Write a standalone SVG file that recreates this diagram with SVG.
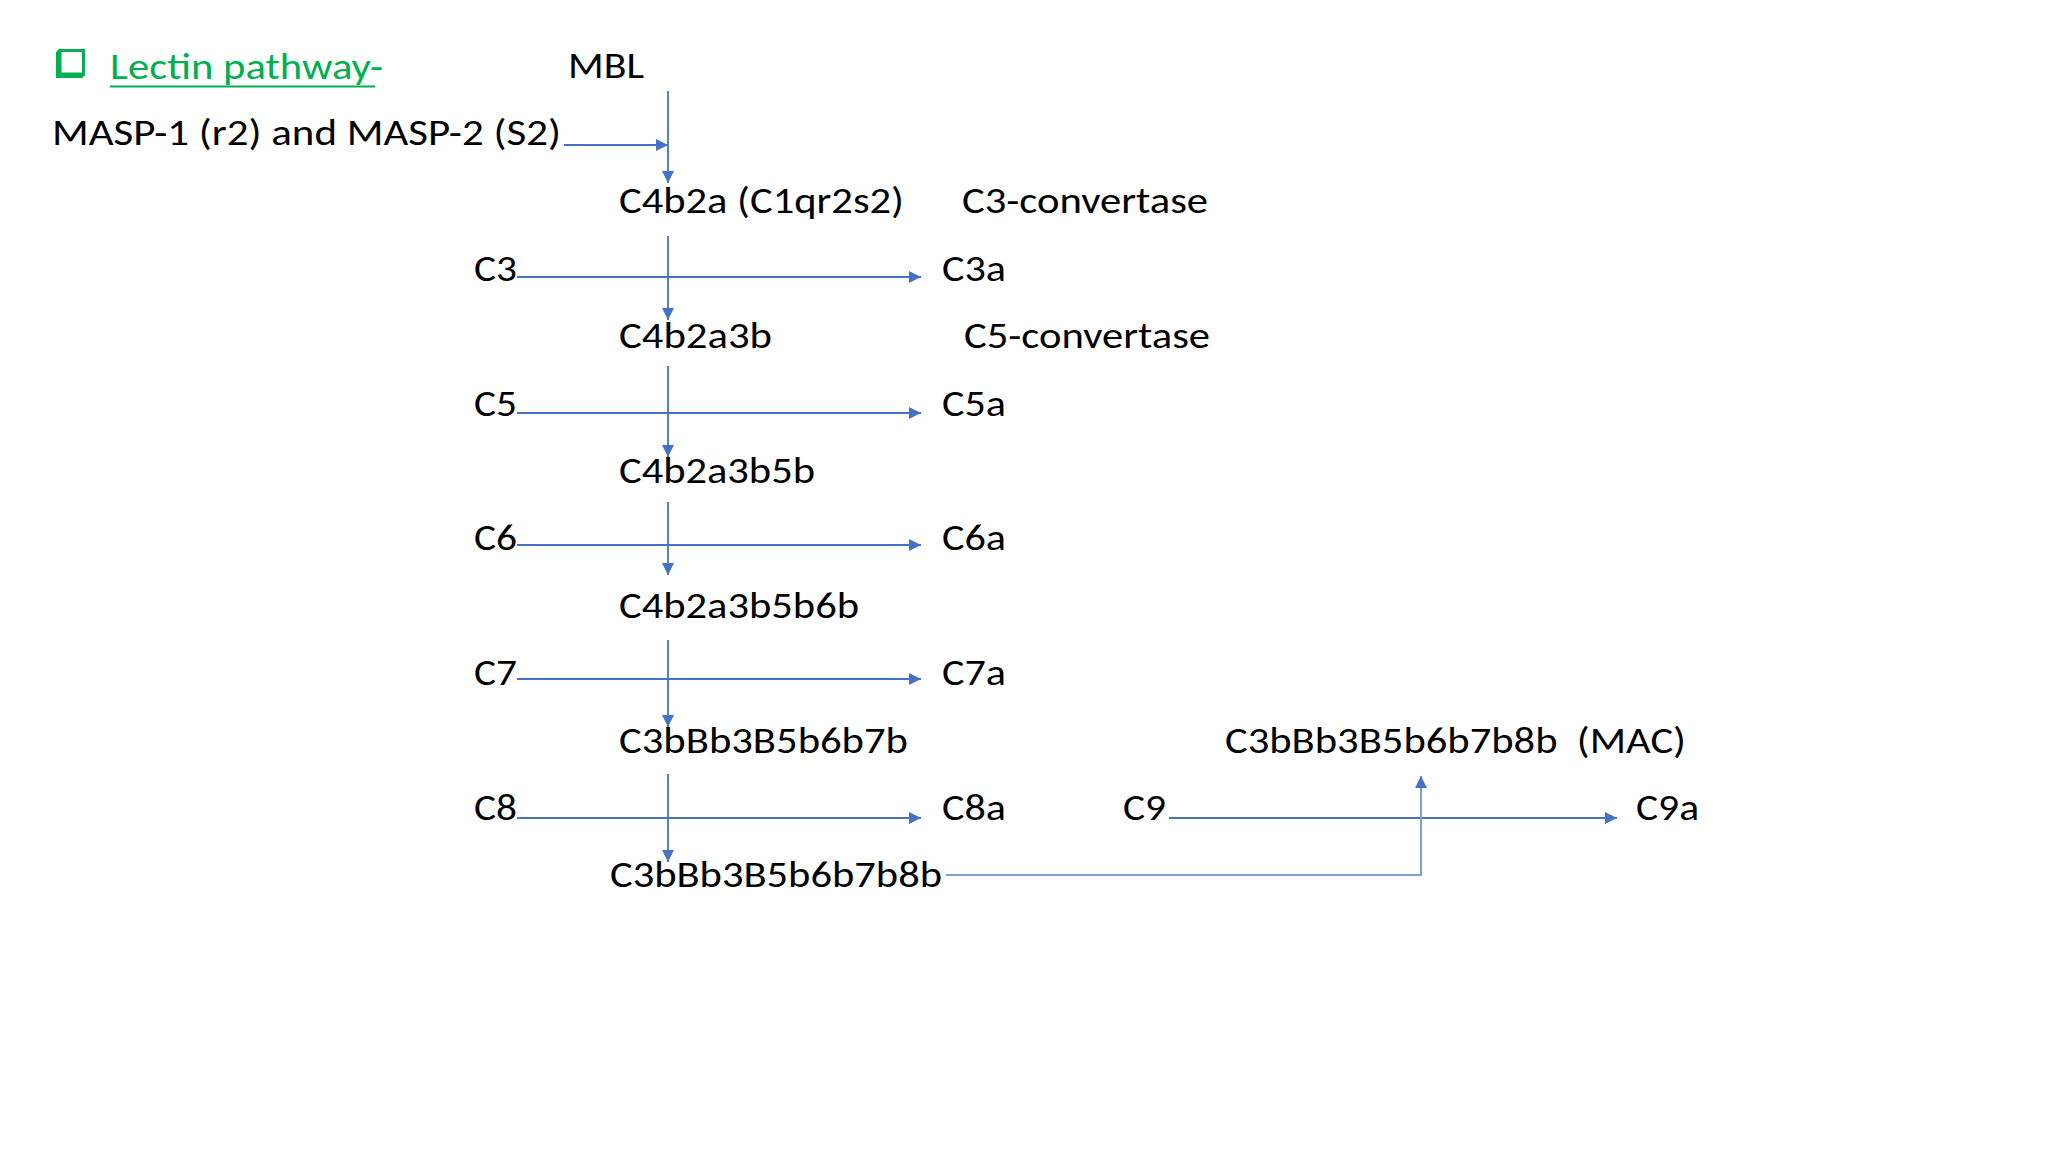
<svg xmlns="http://www.w3.org/2000/svg" width="2048" height="1152" viewBox="0 0 2048 1152">
<style>
.t{font-family:Carlito,Lato,"Liberation Sans",sans-serif;font-size:36px;fill:#000}
.g{fill:#00B050}
.ln{stroke:#4472C4;stroke-width:2;fill:none}
.lv{stroke:#4472C4;stroke-width:1.8;fill:none}
</style>
<defs>
<marker id="ah" markerUnits="userSpaceOnUse" markerWidth="12" markerHeight="12" refX="12" refY="6" orient="auto">
<path d="M0,0 L12,6 L0,12 Z" fill="#4472C4"/>
</marker>
</defs>
<rect width="2048" height="1152" fill="#ffffff"/>
<g id="title">
<path class="g" d="M56,52 L59,49 L59,75 L85,75 L82,78 L56,78 Z"/>
<rect x="60" y="50.5" width="23.5" height="23.5" fill="none" stroke="#00B050" stroke-width="3"/>
<text class="t g" x="110" y="79" textLength="273" lengthAdjust="spacingAndGlyphs">Lectin pathway-</text>
<line x1="110" y1="86.5" x2="375" y2="86.5" stroke="#00B050" stroke-width="2.2"/>
</g>
<g id="n-mbl"><text class="t" x="568" y="78" textLength="76" lengthAdjust="spacingAndGlyphs">MBL</text></g>
<g id="n-masp"><text class="t" x="52" y="145" textLength="509" lengthAdjust="spacingAndGlyphs">MASP-1 (r2) and MASP-2 (S2)</text></g>
<g id="n-c4b2a"><text class="t" x="619" y="213" textLength="285" lengthAdjust="spacingAndGlyphs">C4b2a (C1qr2s2)</text></g>
<g id="n-c3conv"><text class="t" x="962" y="213" textLength="246" lengthAdjust="spacingAndGlyphs">C3-convertase</text></g>
<g id="n-c3"><text class="t" x="474" y="281" textLength="43" lengthAdjust="spacingAndGlyphs">C3</text></g>
<g id="n-c3a"><text class="t" x="942" y="281" textLength="64" lengthAdjust="spacingAndGlyphs">C3a</text></g>
<g id="n-c4b2a3b"><text class="t" x="619" y="348" textLength="153" lengthAdjust="spacingAndGlyphs">C4b2a3b</text></g>
<g id="n-c5conv"><text class="t" x="964" y="348" textLength="246" lengthAdjust="spacingAndGlyphs">C5-convertase</text></g>
<g id="n-c5"><text class="t" x="474" y="416" textLength="43" lengthAdjust="spacingAndGlyphs">C5</text></g>
<g id="n-c5a"><text class="t" x="942" y="416" textLength="64" lengthAdjust="spacingAndGlyphs">C5a</text></g>
<g id="n-c4b2a3b5b"><text class="t" x="619" y="483" textLength="196" lengthAdjust="spacingAndGlyphs">C4b2a3b5b</text></g>
<g id="n-c6"><text class="t" x="474" y="550" textLength="43" lengthAdjust="spacingAndGlyphs">C6</text></g>
<g id="n-c6a"><text class="t" x="942" y="550" textLength="64" lengthAdjust="spacingAndGlyphs">C6a</text></g>
<g id="n-c4b2a3b5b6b"><text class="t" x="619" y="618" textLength="240" lengthAdjust="spacingAndGlyphs">C4b2a3b5b6b</text></g>
<g id="n-c7"><text class="t" x="474" y="685" textLength="43" lengthAdjust="spacingAndGlyphs">C7</text></g>
<g id="n-c7a"><text class="t" x="942" y="685" textLength="64" lengthAdjust="spacingAndGlyphs">C7a</text></g>
<g id="n-c3bbb7b"><text class="t" x="619" y="753" textLength="289" lengthAdjust="spacingAndGlyphs">C3bBb3B5b6b7b</text></g>
<g id="n-mac"><text class="t" x="1225" y="753" textLength="461" lengthAdjust="spacingAndGlyphs" xml:space="preserve">C3bBb3B5b6b7b8b  (MAC)</text></g>
<g id="n-c8"><text class="t" x="474" y="820" textLength="43" lengthAdjust="spacingAndGlyphs">C8</text></g>
<g id="n-c8a"><text class="t" x="942" y="820" textLength="64" lengthAdjust="spacingAndGlyphs">C8a</text></g>
<g id="n-c9"><text class="t" x="1123" y="820" textLength="43" lengthAdjust="spacingAndGlyphs">C9</text></g>
<g id="n-c9a"><text class="t" x="1636" y="820" textLength="63" lengthAdjust="spacingAndGlyphs">C9a</text></g>
<g id="n-c3bbb8b"><text class="t" x="610" y="887" textLength="332" lengthAdjust="spacingAndGlyphs">C3bBb3B5b6b7b8b</text></g>
<g id="connectors">
<line class="lv" x1="668" y1="91" x2="668" y2="183" marker-end="url(#ah)"/>
<line class="ln" x1="564" y1="145" x2="668" y2="145" marker-end="url(#ah)"/>
<line class="lv" x1="668" y1="236" x2="668" y2="320" marker-end="url(#ah)"/>
<line class="lv" x1="668" y1="366" x2="668" y2="457" marker-end="url(#ah)"/>
<line class="lv" x1="668" y1="502" x2="668" y2="575" marker-end="url(#ah)"/>
<line class="lv" x1="668" y1="640" x2="668" y2="727" marker-end="url(#ah)"/>
<line class="lv" x1="668" y1="774" x2="668" y2="862" marker-end="url(#ah)"/>
<line class="ln" x1="517" y1="277" x2="921" y2="277" marker-end="url(#ah)"/>
<line class="ln" x1="517" y1="413" x2="921" y2="413" marker-end="url(#ah)"/>
<line class="ln" x1="517" y1="545" x2="921" y2="545" marker-end="url(#ah)"/>
<line class="ln" x1="517" y1="679" x2="921" y2="679" marker-end="url(#ah)"/>
<line class="ln" x1="517" y1="818" x2="921" y2="818" marker-end="url(#ah)"/>
<line class="ln" x1="1169" y1="818" x2="1617" y2="818" marker-end="url(#ah)"/>
<polyline points="946,875 1421,875 1421,776" fill="none" stroke="#7F9FD6" stroke-width="2" marker-end="url(#ah)"/>
</g>
</svg>
